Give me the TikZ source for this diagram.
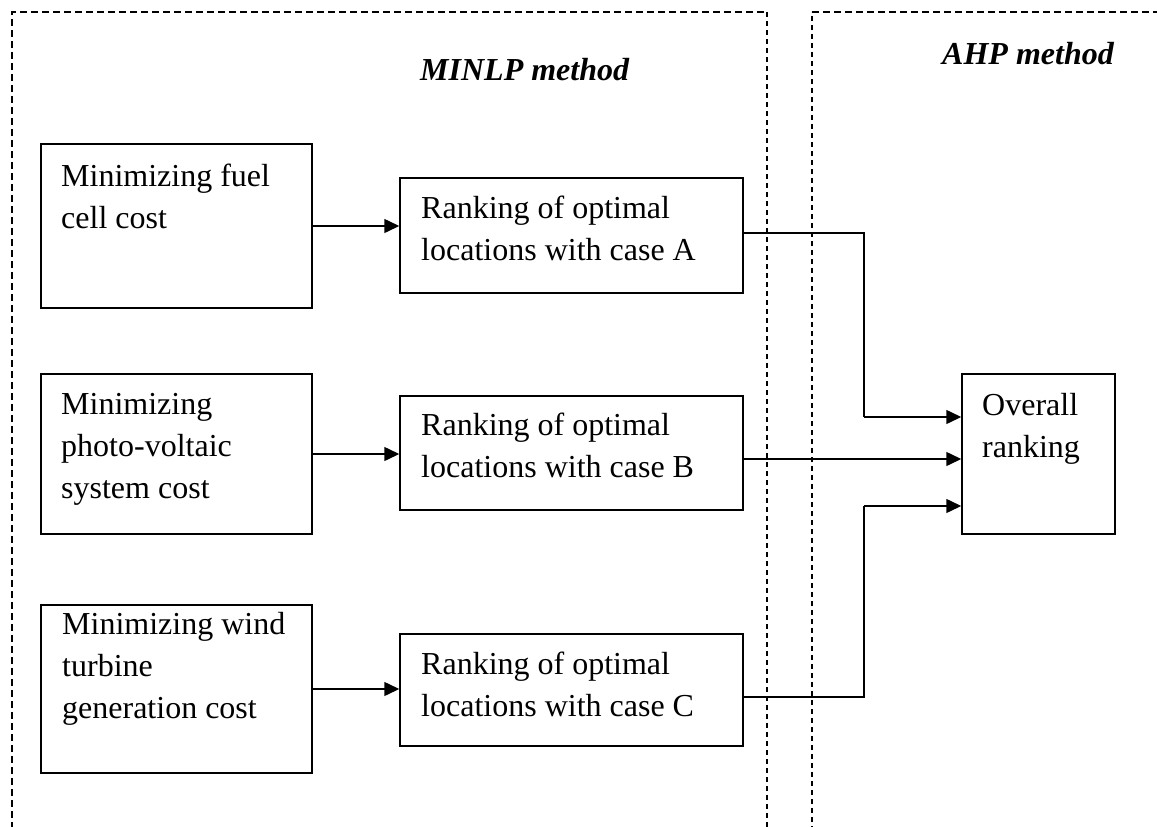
\documentclass[tikz,border=0pt]{standalone}
\usepackage{fontspec}
\setmainfont{Liberation Serif}
\usetikzlibrary{arrows.meta,calc}
\begin{document}
\begin{tikzpicture}[x=1pt,y=-1pt,
  box/.style={draw, line width=1.5pt, inner sep=0pt, rectangle},
  txt/.style={inner sep=0pt, align=left, anchor=base west, font=\fontsize{32}{42}\selectfont},
  ttl/.style={inner sep=0pt, anchor=base west, font=\fontsize{32}{42}\selectfont\bfseries\itshape},
  arr/.style={line width=1.5pt, -{Triangle[length=15pt,width=14pt]}},
  link/.style={line width=1.5pt},
  outerdash/.style={line width=1.4pt, dash pattern=on 7pt off 4pt},
  innerdash/.style={line width=1.2pt, dash pattern=on 5pt off 4pt}]
\useasboundingbox (0,0) rectangle (1157,827);

% dashed regions
\draw[outerdash] (12,840) -- (12,12) -- (767,12);
\draw[innerdash] (767,12) -- (767,840);
\draw[innerdash] (812,840) -- (812,12);
\draw[outerdash] (812,12) -- (1170,12);

% titles
\node[ttl] (tminlp) at (420,80) {MINLP method};
\node[ttl] (tahp) at (942,64) {AHP method};

% left boxes
\node[box, minimum width=271pt, minimum height=164pt] (f1) at (176.5,226) {};
\node[txt] (f1t) at (61,228) {Minimizing fuel\\cell cost};
\node[box, minimum width=271pt, minimum height=160pt] (f2) at (176.5,454) {};
\node[txt] (f2t) at (61,498) {Minimizing\\photo-voltaic\\system cost};
\node[box, minimum width=271pt, minimum height=168pt] (f3) at (176.5,689) {};
\node[txt] (f3t) at (62,718) {Minimizing wind\\turbine\\generation cost};

% ranking boxes
\node[box, minimum width=343pt, minimum height=115pt] (rA) at (571.5,235.5) {};
\node[txt] (rAt) at (421,260) {Ranking of optimal\\locations with case A};
\node[box, minimum width=343pt, minimum height=114pt] (rB) at (571.5,453) {};
\node[txt] (rBt) at (421,477) {Ranking of optimal\\locations with case B};
\node[box, minimum width=343pt, minimum height=112pt] (rC) at (571.5,690) {};
\node[txt] (rCt) at (421,716) {Ranking of optimal\\locations with case C};

% overall box
\node[box, minimum width=153pt, minimum height=160pt] (ov) at (1038.5,454) {};
\node[txt] (ovt) at (982,457) {Overall\\ranking};

% arrows into ranking boxes
\draw[arr] (f1.east) -- (f1.east -| rA.west);
\draw[arr] (f2.east) -- (f2.east -| rB.west);
\draw[arr] (f3.east) -- (f3.east -| rC.west);

% connectors to overall ranking
\coordinate (ao) at ([yshift=2.5pt]rA.east);
\coordinate (ja) at (864,417);
\draw[link] (ao) -| (ja);
\draw[arr] (ja) -- (ja -| ov.west);

\coordinate (bo) at ([yshift=-6pt]rB.east);
\draw[arr] (bo) -- (bo -| ov.west);

\coordinate (co) at ([yshift=-7pt]rC.east);
\coordinate (jc) at (864,506);
\draw[link] (co) -| (jc);
\draw[arr] (jc) -- (jc -| ov.west);
\end{tikzpicture}
\end{document}
